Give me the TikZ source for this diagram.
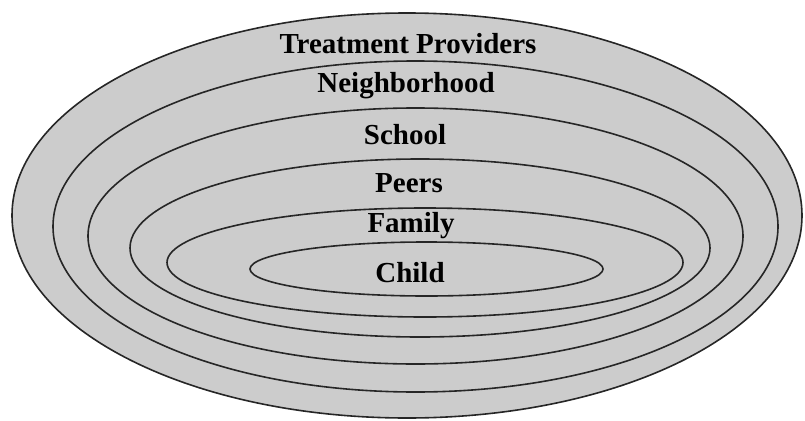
\documentclass[tikz,border=0pt]{standalone}
\usepackage{fontspec}
\setmainfont{Liberation Serif}
\usetikzlibrary{shapes.geometric}
\definecolor{ringfill}{RGB}{204,204,204}
\tikzset{
  ring/.style={ellipse, draw=black!85, line width=1.6pt, inner sep=0pt},
  ringlabel/.style={font=\fontsize{29}{32}\selectfont\bfseries, text=black, inner sep=0pt}
}
\begin{document}
\begin{tikzpicture}[x=1pt,y=-1pt]
\useasboundingbox (0,0) rectangle (805,420);
\node[ring, fill=ringfill, minimum width=790pt, minimum height=405pt] (tp) at (407,215.5) {};
\node[ring, minimum width=725pt, minimum height=331pt] (nb) at (415.5,226.5) {};
\node[ring, minimum width=655pt, minimum height=256pt] (sc) at (415.5,236) {};
\node[ring, minimum width=580pt, minimum height=178pt] (pe) at (420,248) {};
\node[ring, minimum width=516pt, minimum height=109pt] (fa) at (425,262.5) {};
\node[ring, minimum width=353pt, minimum height=54pt] (ch) at (426.5,269) {};
\node[ringlabel] (ltp) at (408,44) {Treatment Providers};
\node[ringlabel] (lnb) at (406,86) {Neighborhood};
\node[ringlabel] (lsc) at (405,135) {School};
\node[ringlabel] (lpe) at (409,183) {Peers};
\node[ringlabel] (lfa) at (411,226) {Family};
\node[ringlabel] (lch) at (410,273) {Child};
\end{tikzpicture}
\end{document}
